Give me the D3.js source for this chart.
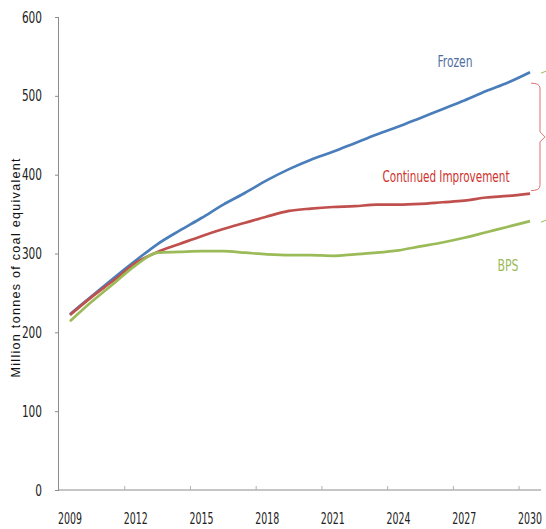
<!DOCTYPE html>
<html>
<head>
<meta charset="utf-8">
<script src="https://cdn.jsdelivr.net/npm/d3@7"></script>
<style>
  body { margin: 0; background: #fff; }
  svg { display: block; }
</style>
</head>
<body>
<svg id="chart" width="546" height="529"></svg>
<script>
let years = d3.range(2009, 2031)
let frozen = [223, 246, 269, 291, 312, 329, 345, 362, 377, 393, 407, 419, 429, 440, 451, 461, 472, 483, 494, 506, 517, 530]
let improvement = [222, 245, 266, 288, 302, 312, 322, 331, 339, 347, 354, 357, 359, 360, 362, 362, 363, 365, 367, 371, 373, 376]
let bps = [214, 239, 262, 285, 301, 302, 303, 303, 301, 299, 298, 298, 297, 299, 301, 304, 309, 314, 320, 327, 334, 341]
let labelYears = [2009, 2012, 2015, 2018, 2021, 2024, 2027, 2030]
let yTicks = [0, 100, 200, 300, 400, 500, 600]

let series = [
  {name: "Frozen", values: frozen, color: "#4a7ebb", text: "#4f6ea0", lx: 455, ly: 67, w: 35},
  {name: "Continued Improvement", values: improvement, color: "#c0504d", text: "#d0312d", lx: 446, ly: 182, w: 127},
  {name: "BPS", values: bps, color: "#9bbb59", text: "#9bbb59", lx: 508, ly: 271, w: 21}
]

let svg = d3.select("#chart")
let x = d3.scaleLinear().domain([2008.5, 2030.5]).range([59, 541])
let y = d3.scaleLinear().domain([0, 600]).range([490, 17])
let narrow = "'DejaVu Sans Condensed', 'Liberation Sans', sans-serif"

// y axis
let yAxis = svg.append("g")
  .attr("transform", "translate(59,0)")
  .call(d3.axisLeft(y).tickValues(yTicks).tickSize(4).tickPadding(13))
yAxis.select(".domain").attr("stroke", "#8c8c8c").attr("d", "M-0.5," + y(600) + "V" + y(0))
yAxis.selectAll(".tick line").attr("stroke", "#8c8c8c")
yAxis.selectAll("text")
  .style("font-family", narrow).style("font-size", "16px").attr("fill", "#222")
  .attr("lengthAdjust", "spacingAndGlyphs")
  .attr("textLength", d => String(d).length * 6.7)

// x axis: ticks on category boundaries, labels at category centres
let xAxis = svg.append("g").attr("transform", "translate(0,490)")
xAxis.append("line")
  .attr("x1", x(2008.5)).attr("x2", x(2030.5))
  .attr("stroke", "#8c8c8c")
xAxis.selectAll(".xt")
  .data(labelYears.slice(1).map(d => d - 0.5))
  .enter().append("line")
  .attr("x1", d => x(d)).attr("x2", d => x(d))
  .attr("y1", 0).attr("y2", -4)
  .attr("stroke", "#b0b0b0")
xAxis.selectAll(".xl")
  .data(labelYears)
  .enter().append("text")
  .attr("x", d => x(d))
  .attr("y", 34)
  .attr("text-anchor", "middle")
  .style("font-family", narrow).style("font-size", "16px").attr("fill", "#222")
  .attr("lengthAdjust", "spacingAndGlyphs")
  .attr("textLength", 24)
  .text(d => d)

svg.append("text")
  .attr("transform", "translate(20,268) rotate(-90)")
  .attr("text-anchor", "middle")
  .style("font-family", "'Liberation Sans', Arial, sans-serif")
  .style("font-size", "12.5px")
  .attr("textLength", 219)
  .attr("fill", "#111")
  .text("Million tonnes of coal equivalent")

let line = d3.line()
  .x((d, i) => x(years[i]))
  .y(d => y(d))
  .curve(d3.curveMonotoneX)

svg.selectAll(".series")
  .data(series)
  .enter().append("path")
  .attr("d", d => line(d.values))
  .attr("fill", "none")
  .attr("stroke", d => d.color)
  .attr("stroke-width", 2.7)

svg.selectAll(".lbl")
  .data(series)
  .enter().append("text")
  .attr("x", d => d.lx).attr("y", d => d.ly)
  .attr("text-anchor", "middle")
  .style("font-family", narrow).style("font-size", "15px")
  .attr("lengthAdjust", "spacingAndGlyphs")
  .attr("textLength", d => d.w)
  .attr("fill", d => d.text)
  .text(d => d.name)

// brace between Frozen and Continued Improvement at 2030
let yTop = y(frozen[21]) + 11, yBot = y(improvement[21]) - 3, yMid = (yTop + yBot) / 2
let bx = 540
svg.append("path")
  .attr("d", "M531," + yTop + "Q" + bx + "," + yTop + " " + bx + "," + (yTop + 5) +
    "V" + (yMid - 5) + "L" + (bx + 5) + "," + yMid + "L" + bx + "," + (yMid + 5) +
    "V" + (yBot - 5) + "Q" + bx + "," + yBot + " 531," + yBot)
  .attr("fill", "none")
  .attr("stroke", "#e07070")
  .attr("stroke-width", 1)

// small green leaders at the end of Frozen and BPS
svg.selectAll(".lead")
  .data([frozen[21], bps[21]])
  .enter().append("path")
  .attr("d", d => "M541," + (y(d) + 1) + "L546," + (y(d) - 1))
  .attr("stroke", "#9bbb59")
  .attr("stroke-width", 1)
</script>
</body>
</html>
